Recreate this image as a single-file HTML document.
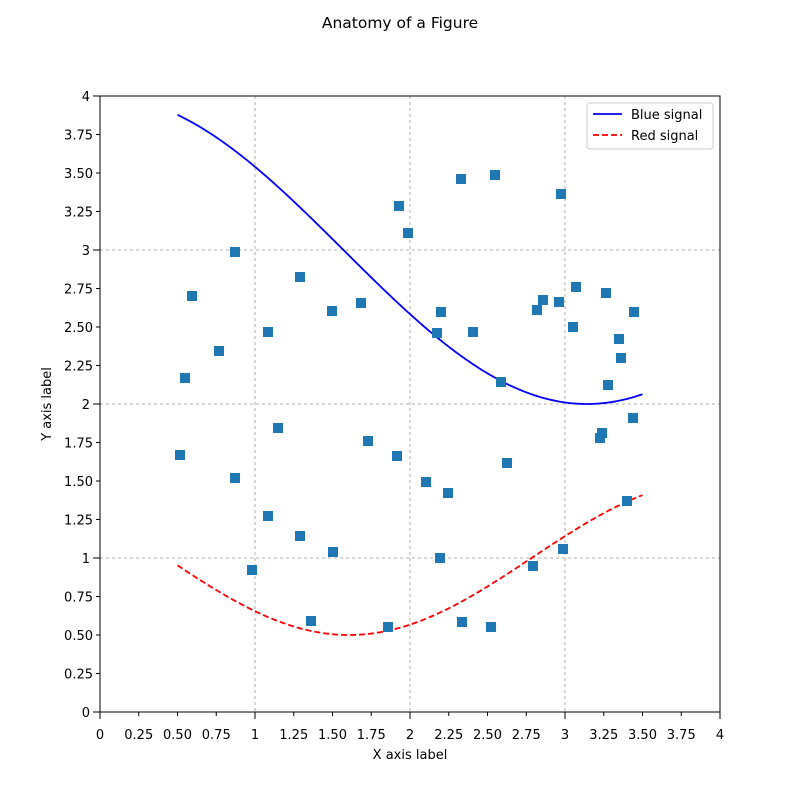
<!DOCTYPE html>
<html><head><meta charset="utf-8"><style>
body{margin:0;background:#fff}
svg text{font-family:"DejaVu Sans","Liberation Sans",sans-serif;font-size:13px;fill:#000}
</style></head><body>
<svg id="s" width="800" height="800" xmlns="http://www.w3.org/2000/svg">
<rect width="800" height="800" fill="#fff"/>
<text x="400" y="28" text-anchor="middle" style="font-size:15.5px">Anatomy of a Figure</text>
<g id="g"></g>
<rect x="100" y="96" width="620" height="616" fill="none" stroke="#000" stroke-width="1"/>
<text x="410" y="759" text-anchor="middle">X axis label</text>
<text transform="translate(51,404) rotate(-90)" text-anchor="middle">Y axis label</text>
<rect x="587" y="103" width="126" height="46" rx="3" fill="#fff" stroke="#ccc"/>
<line x1="593" y1="114" x2="622" y2="114" stroke="#00f" stroke-width="1.8"/>
<text x="631" y="119">Blue signal</text>
<line x1="593" y1="135" x2="622" y2="135" stroke="#f00" stroke-width="1.8" stroke-dasharray="6,3"/>
<text x="631" y="140">Red signal</text>
</svg>
<script>
var g=document.getElementById('g'),h='';
function X(v){return 100+155*v}function Y(v){return 712-154*v}
var labs=['0','0.25','0.50','0.75','1','1.25','1.50','1.75','2','2.25','2.50','2.75','3','3.25','3.50','3.75','4'];
for(var i=0;i<=16;i++){var v=i/4,mj=i%4==0,l=mj?7:4;
if(mj&&i>0&&i<16){h+='<line x1="'+X(v)+'" y1="96" x2="'+X(v)+'" y2="712" stroke="#999" stroke-dasharray="3,3" stroke-width="0.8"/>';
h+='<line x1="100" y1="'+Y(v)+'" x2="720" y2="'+Y(v)+'" stroke="#999" stroke-dasharray="3,3" stroke-width="0.8"/>';}
h+='<line x1="'+X(v)+'" y1="712" x2="'+X(v)+'" y2="'+(712+l)+'" stroke="#000"/>';
h+='<line x1="100" y1="'+Y(v)+'" x2="'+(100-l)+'" y2="'+Y(v)+'" stroke="#000"/>';
h+='<text x="'+X(v)+'" y="739" text-anchor="middle">'+labs[i]+'</text>';
h+='<text x="'+(100-l-3)+'" y="'+(Y(v)+5)+'" text-anchor="end">'+labs[i]+'</text>';}
var b='',r='';for(var k=0;k<=200;k++){var x=0.5+3*k/200;b+=X(x)+','+Y(3+Math.cos(x))+' ';r+=X(x)+','+Y(1+Math.cos(1+x/0.75)/2)+' ';}
h+='<polyline points="'+b+'" fill="none" stroke="#00f" stroke-width="1.8"/>';
h+='<polyline points="'+r+'" fill="none" stroke="#f00" stroke-width="1.8" stroke-dasharray="6,3"/>';
var p=[[180,455],[185,378],[192,296],[219,351],[235,252],[235,478],[252,570],[268,332],[268,516],[278,428],[300,277],[300,536],[311,621],[332,311],[333,552],[361,303],[368,441],[388,627],[397,456],[399,206],[408,233],[426,482],[437,333],[441,312],[440,558],[448,493],[461,179],[462,622],[473,332],[495,175],[491,627],[501,382],[507,463],[533,566],[537,310],[543,300],[559,302],[561,194],[563,549],[573,327],[576,287],[600,438],[602,433],[606,293],[608,385],[619,339],[621,358],[633,418],[627,501],[634,312]];
p.forEach(function(q){h+='<rect x="'+(q[0]-5)+'" y="'+(q[1]-5)+'" width="10" height="10" fill="#1f77b4"/>';});
g.innerHTML=h;
</script>
</body></html>
